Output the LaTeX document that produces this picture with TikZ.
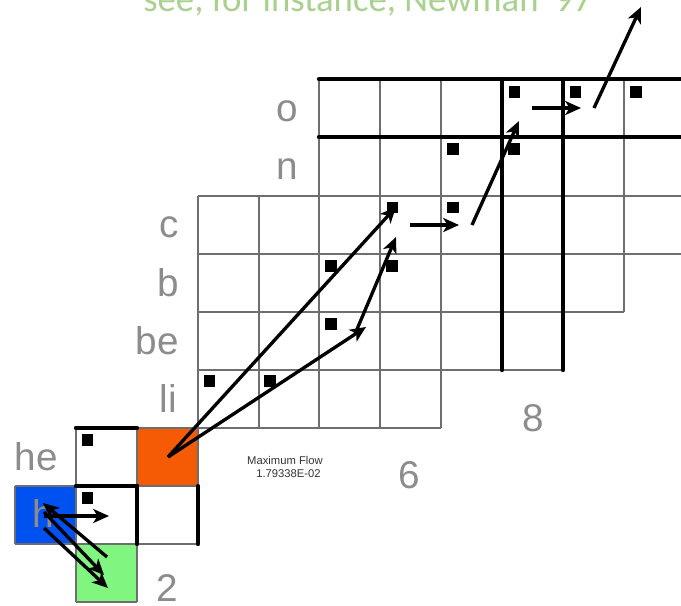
\documentclass[tikz,border=0pt]{standalone}
\usepackage{fontspec}
\setmainfont{Liberation Sans}
\newfontfamily\titlefont{Carlito}
\usetikzlibrary{arrows.meta}
\definecolor{cblue}{RGB}{0,82,240}
\definecolor{corange}{RGB}{245,90,5}
\definecolor{cgreen}{RGB}{128,245,128}
\definecolor{ctitle}{RGB}{169,209,142}
\definecolor{clabel}{RGB}{140,140,140}
\definecolor{cthin}{RGB}{110,110,110}
\tikzset{
  thinline/.style={draw=cthin, line width=0.6pt},
  thickline/.style={draw=black, line width=2.5pt, line cap=round},
  flow/.style={draw=black, line width=1.9pt, -{Stealth[length=9pt,width=8pt,inset=2.5pt]}},
  sq/.style={fill=black, minimum size=6.6pt, inner sep=0pt, outer sep=0pt},
  lab/.style={text=clabel, font=\fontsize{22}{24}\selectfont, inner sep=0pt},
  smalltxt/.style={text=black!80, font=\fontsize{6.4}{7.4}\selectfont, inner sep=0pt, align=center},
}
\begin{document}
\begin{tikzpicture}[x=0.02cm,y=-0.02cm]
\clip (0,0) rectangle (681,606);
\fill[white] (0,0) rectangle (681,606);
% title (clipped at the top)
\node[anchor=base west, inner sep=0pt, text=ctitle, font=\titlefont\fontsize{20.9}{24}\selectfont] (title) at (143,11) {see, for instance, Newman '97};
% coloured cells
\fill[cblue] (15,486) rectangle (76,544);
\fill[corange] (137,428) rectangle (198,486);
\fill[cgreen] (76,544) rectangle (137,602);
% thin grid lines - horizontal
\draw[thinline] (319,79) -- (681,79);
\draw[thinline] (319,137) -- (681,137);
\draw[thinline] (198,196) -- (681,196);
\draw[thinline] (198,254) -- (681,254);
\draw[thinline] (198,312) -- (624,312);
\draw[thinline] (198,370) -- (563,370);
\draw[thinline] (198,428) -- (441,428);
\draw[thinline] (76,428) -- (198,428);
\draw[thinline] (15,486) -- (198,486);
\draw[thinline] (15,544) -- (198,544);
\draw[thinline] (76,602) -- (137,602);
% thin grid lines - vertical
\draw[thinline] (15,486) -- (15,544);
\draw[thinline] (76,428) -- (76,602);
\draw[thinline] (137,428) -- (137,602);
\draw[thinline] (198,196) -- (198,544);
\draw[thinline] (259,196) -- (259,428);
\draw[thinline] (319,79) -- (319,428);
\draw[thinline] (380,79) -- (380,428);
\draw[thinline] (441,79) -- (441,428);
\draw[thinline] (624,79) -- (624,312);
% thick lines
\draw[thickline] (319,79) -- (690,79);
\draw[thickline] (319,137) -- (690,137);
\draw[thickline] (502,79) -- (502,370);
\draw[thickline] (563,79) -- (563,370);
\draw[thickline] (76,428) -- (137,428);
\draw[thickline] (76,486) -- (137,486);
\draw[thickline] (137,486) -- (137,544);
\draw[thickline] (198,486) -- (198,544);
% row labels
\node[lab, anchor=base east] (lo) at (298,121) {o};
\node[lab, anchor=base east] (ln) at (298,179) {n};
\node[lab, anchor=base east] (lc) at (179,237) {c};
\node[lab, anchor=base east] (lb) at (179,296) {b};
\node[lab, anchor=base east] (lbe) at (179,354) {be};
\node[lab, anchor=base east] (lli) at (177,412) {li};
\node[lab, anchor=base east] (lhe) at (58,470) {he};
\node[lab, anchor=base east] (lh) at (54,527) {h};
% column numbers
\node[lab, anchor=base] (n2) at (167,601) {2};
\node[lab, anchor=base] (n6) at (409,488) {6};
\node[lab, anchor=base] (n8) at (533,431) {8};
% maximum flow text
\node[smalltxt] (mf) at (285,467) {Maximum Flow\\\hspace*{4pt}1.79338E-02};
% black squares
\node[sq] (s1) at (87.5,440) {};
\node[sq] (s2) at (87.5,498) {};
\node[sq] (s3) at (209.5,381) {};
\node[sq] (s4) at (270,381) {};
\node[sq] (s5) at (331,324) {};
\node[sq] (s6) at (331,266) {};
\node[sq] (s7) at (392,266) {};
\node[sq] (s8) at (392.5,207.5) {};
\node[sq] (s9) at (453,207.5) {};
\node[sq] (s10) at (453,149) {};
\node[sq] (s11) at (514,149) {};
\node[sq] (s12) at (514.5,92) {};
\node[sq] (s13) at (575.5,92) {};
\node[sq] (s14) at (636,92) {};
% arrow end points
\coordinate (o1) at (168,457);
\coordinate (e1) at (396,207);
\coordinate (e2) at (366,327);
\coordinate (f3) at (355,334);
\coordinate (e3) at (396,237);
\coordinate (f4) at (410,225);
\coordinate (e4) at (459,225);
\coordinate (f5) at (472,225);
\coordinate (e5) at (519,121);
\coordinate (f6) at (532,108);
\coordinate (e6) at (581,108);
\coordinate (f7) at (594,108);
\coordinate (e7) at (641,7);
\coordinate (hb) at (44,516);
\coordinate (hr) at (109,516);
\coordinate (g1) at (107,557);
\coordinate (h1) at (43,503);
\coordinate (h2) at (44,512);
\coordinate (g2) at (104,575);
\coordinate (h3) at (44,528);
\coordinate (g3) at (108,588);
% arrows
\draw[flow] (o1) -- (e1);
\draw[flow] (o1) -- (e2);
\draw[flow] (f3) -- (e3);
\draw[flow] (f4) -- (e4);
\draw[flow] (f5) -- (e5);
\draw[flow] (f6) -- (e6);
\draw[flow] (f7) -- (e7);
\draw[flow] (hb) -- (hr);
\draw[flow] (g1) -- (h1);
\draw[flow] (h2) -- (g2);
\draw[flow] (h3) -- (g3);
\end{tikzpicture}
\end{document}
